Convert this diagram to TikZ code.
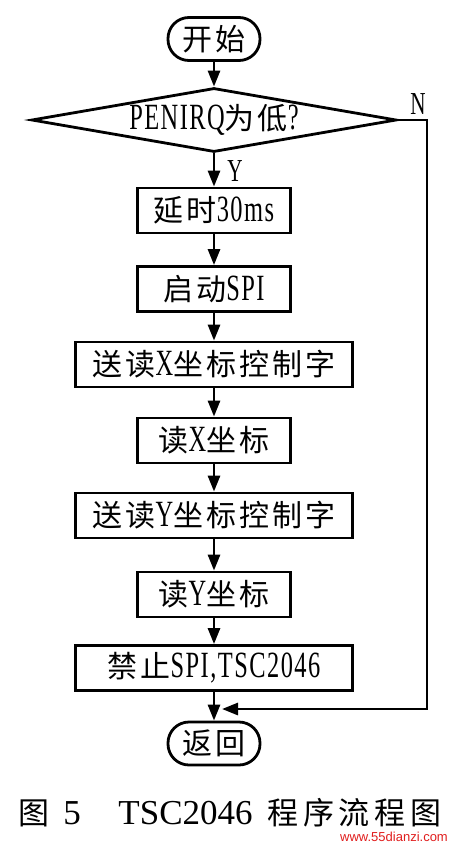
\documentclass[tikz,border=0pt]{standalone}
\usepackage{fontspec}
\setmainfont{Liberation Serif}[FakeStretch=0.66,LetterSpace=4]
\newfontfamily\cjkf{Noto Sans CJK SC}[LetterSpace=10]
\newfontfamily\cjkcap{Noto Sans CJK SC}[LetterSpace=15]
\newfontfamily\capfont{Liberation Serif}
\newfontfamily\wmfont{Liberation Sans}
\newcommand\zh[1]{{\fontsize{30}{34}\selectfont\cjkf #1}}
\usetikzlibrary{shapes.geometric,arrows.meta}
\definecolor{wmred}{RGB}{225,30,30}
\begin{document}
\begin{tikzpicture}[x=1pt,y=-1pt,
  line width=2.8pt,
  every node/.style={inner sep=0pt, font=\fontsize{37}{40}\selectfont},
  procbox/.style={draw, rectangle, minimum height=45pt},
  narrow/.style={procbox, minimum width=153pt},
  wide/.style={procbox, minimum width=277pt},
  term/.style={draw, rectangle, rounded corners=21pt, minimum width=92pt, minimum height=43pt},
  decbox/.style={draw, diamond, aspect=5.7, minimum width=365pt, minimum height=64pt},
  flow/.style={-{Triangle[length=16pt,width=12pt]}},
  lbl/.style={font=\fontsize{32}{34}\selectfont},
  cjkbig/.style={font=\fontsize{31}{34}\selectfont\cjkcap},
  caplat/.style={font=\fontsize{35}{38}\selectfont\capfont}
]
\useasboundingbox (0,0) rectangle (455,849);
\fill[white] (0,0) rectangle (455,849);

\node[term] (start) at (214,39) {\zh{开始}};
\node[decbox] (dia) at (214,120) {PENIRQ\zh{为低}?};
\node[narrow] (b1) at (214,210.5) {\zh{延时}30ms};
\node[narrow] (b2) at (214,289) {\zh{启动}SPI};
\node[wide] (b3) at (214,364.5) {\zh{送读}X\zh{坐标控制字}};
\node[narrow] (b4) at (214,440.5) {\zh{读}X\zh{坐标}};
\node[wide] (b5) at (214,515.5) {\zh{送读}Y\zh{坐标控制字}};
\node[narrow] (b6) at (214,594.5) {\zh{读}Y\zh{坐标}};
\node[wide] (b7) at (214,668) {\zh{禁止}SPI,TSC2046};
\node[term] (end) at (214,743.5) {\zh{返回}};

\node[lbl] (ylab) at (235,171) {Y};
\node[lbl] (nlab) at (418,104) {N};

\coordinate (rt) at (427,120);
\coordinate (rb) at (427,709);
\coordinate (merge) at (214,709);

\draw[flow] (start) -- (dia);
\draw[flow] (dia) -- (b1);
\draw[flow] (b1) -- (b2);
\draw[flow] (b2) -- (b3);
\draw[flow] (b3) -- (b4);
\draw[flow] (b4) -- (b5);
\draw[flow] (b5) -- (b6);
\draw[flow] (b6) -- (b7);
\draw[flow] (b7) -- (end);
\draw[flow, shorten >=8pt] (dia.east) -- (rt) -- (rb) -- (merge);

\node[cjkbig] (captu) at (34,813) {图};
\node[caplat] (capnum) at (72,813) {5};
\node[caplat] (capchip) at (185.5,813) {TSC2046};
\node[cjkbig] (captitle) at (354.5,813) {程序流程图};
\node[font=\fontsize{13}{15}\selectfont\wmfont, text=wmred] (wm) at (394,837) {www.55dianzi.com};
\end{tikzpicture}
\end{document}
